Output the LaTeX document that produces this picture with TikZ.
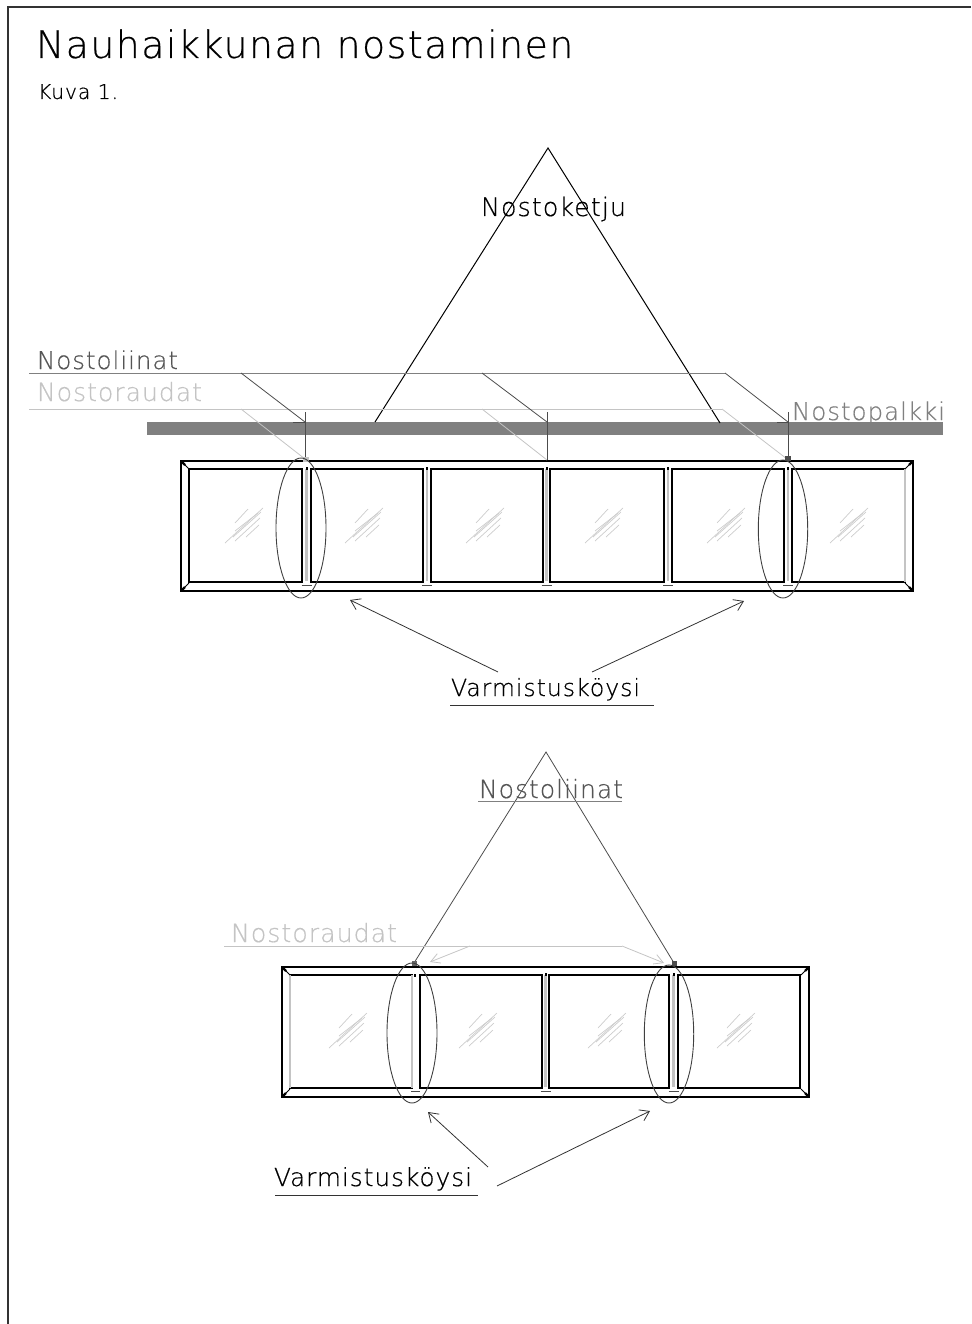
\documentclass[tikz,border=0pt]{standalone}
\usepackage{fontspec}
\usepackage{graphicx}
\setmainfont[LetterSpace=4,FakeBold=0.5]{DejaVu Sans ExtraLight}
\definecolor{lgrey}{HTML}{C4C4C4}
\definecolor{mgrey}{HTML}{808080}
\definecolor{hgrey}{HTML}{CCCCCC}
\definecolor{tgrey}{HTML}{555555}
\usetikzlibrary{arrows.meta}
\tikzset{
  x=1pt,y=-1pt,
  framewin/.style={line width=1.7pt,draw=black},
  pane/.style={line width=1.5pt,draw=black},
  greyline/.style={line width=1pt,draw=lgrey},
  darkline/.style={line width=1pt,draw=mgrey},
  sling/.style={line width=0.8pt,draw=black!70},
  chainline/.style={line width=1pt,draw=black},
  oval/.style={line width=0.9pt,draw=black!75},
  arr/.style={line width=0.8pt,draw=black!80,-{Straight Barb[length=9pt,width=12pt,line width=0.8pt]}},
  garr/.style={line width=0.8pt,draw=lgrey,-{Straight Barb[length=9pt,width=10pt,line width=0.8pt]}},
  lab/.style={inner sep=0pt,outer sep=0pt,anchor=base west},
  hatchline/.style={line width=0.7pt,draw=hgrey},
}
\newcommand{\glass}[2]{%
  \begin{scope}[shift={(#1,#2)}]
    \draw[hatchline] (-20,18)--(18,-17);
    \draw[hatchline] (-10,16)--(15,-7);
    \draw[hatchline] (-10,-2)--(3,-16);
    \draw[hatchline] (1,12)--(14,0);
    \draw[hatchline] (-10,6)--(13,-12);
    \draw[hatchline] (-12,12)--(16,-13);
  \end{scope}}
\newcommand{\muntin}[2]{%
  \draw[line width=2.4pt,draw=lgrey] (#1,#2+9)--(#1,#2+121);
  \fill[black] (#1-1,#2+7) rectangle (#1+1,#2+10);
  \draw[line width=1pt,draw=black!70] (#1-5,#2+125)--(#1+5,#2+125);}
\newcommand{\corner}[4]{%
  \draw[line width=1pt] (#1,#2)--(#1+#3*8,#2+#4*8);
  \draw[line width=2.4pt] (#1+#3*1,#2+#4*1)--(#1+#3*4,#2+#4*4);}
\begin{document}
\begin{tikzpicture}
\useasboundingbox (0,0) rectangle (971,1324);
% sheet border
\draw[line width=1.2pt,draw=black!80] (8,1324)--(8,7)--(971,7);
% titles
\node[lab] (title) at (36,58) {\resizebox{537pt}{!}{Nauhaikkunan nostaminen}};
\node[lab] (kuva) at (38,99) {\resizebox{80pt}{!}{Kuva 1.}};
% ---------- upper window ----------
\draw[framewin] (181,461) rectangle (913,591);
\foreach \a/\b in {189/302,311/423,431/543,550/664,672/784,792/905}{
  \draw[pane] (\a,469) rectangle (\b,582);}
\draw[line width=1.6pt,draw=lgrey] (905,469)--(905,582);
\foreach \m in {306.5,427,546.5,668,788}{\muntin{\m}{460}}
\corner{181}{461}{1}{1}\corner{181}{591}{1}{-1}\corner{913}{461}{-1}{1}\corner{913}{591}{-1}{-1}
\foreach \g in {245,365,486,605,727,850}{\glass{\g}{525}}
% beam and labels
\fill[mgrey] (147,422) rectangle (943,435);
\coordinate (apexA) at (548,148);
\coordinate (chainL) at (375,422);
\coordinate (chainR) at (720,423);
\draw[chainline,line join=miter] (chainL)--(apexA)--(chainR);
\node[lab] (ketju) at (481,216) {\resizebox{145pt}{!}{Nostoketju}};
\node[lab,text=tgrey] (liinat1) at (37,369) {\resizebox{141pt}{!}{Nostoliinat}};
\node[lab,text=lgrey] (raudat1) at (37,401) {\resizebox{165pt}{!}{Nostoraudat}};
\node[lab,text=mgrey] (palkki) at (792,420) {\resizebox{153pt}{!}{Nostopalkki}};
% slings and irons
\draw[greyline] (29,409)--(722,409);
\draw[greyline,line width=.8pt] (241,409)--(305,459);
\draw[greyline,line width=.8pt] (482,409)--(547,460);
\draw[greyline,line width=.8pt] (722,409)--(787,459);
\draw[darkline] (29,373)--(725,373);
\draw[sling] (241,373)--(305,422);
\draw[sling] (482,373)--(547,422);
\draw[sling] (725,373)--(788,422);
\draw[sling] (305,412)--(305,460);
\draw[sling] (547,412)--(547,460);
\draw[sling] (788,412)--(788,458);
\draw[sling,line width=.6pt] (293,422)--(305,422);
\draw[sling,line width=.6pt] (777,422)--(788,422);
\fill[lgrey] (303,457) rectangle (309,462);
\fill[black!70] (785,456) rectangle (791,461);
% ovals
\draw[oval] (301,528) ellipse [x radius=25,y radius=70];
\draw[oval] (783,529) ellipse [x radius=24.7,y radius=69];
% lower labels upper group
\node[lab] (varm1) at (451,696) {\resizebox{189pt}{!}{Varmistusköysi}};
\draw[line width=1pt,draw=black!80] (450,705)--(654,705);
\coordinate (v1a) at (498,672); \coordinate (v1b) at (350,600);
\coordinate (v1c) at (592,672); \coordinate (v1d) at (744,601);
\draw[arr] (v1a)--(v1b);
\draw[arr] (v1c)--(v1d);
% ---------- lower window ----------
\draw[framewin] (282,967) rectangle (809,1097);
\foreach \a/\b in {290/412,420/542,549/669,678/800}{
  \draw[pane] (\a,975) rectangle (\b,1088);}
\draw[line width=1.6pt,draw=lgrey] (290,975)--(290,1088);
\draw[line width=1.6pt,draw=lgrey] (412,975)--(412,1088);
\foreach \m in {545.5,673.5}{\muntin{\m}{966}}
\fill[black] (414,974) rectangle (416,977);
\draw[line width=1pt,draw=black!70] (411,1091)--(420,1091);
\corner{282}{967}{1}{1}\corner{282}{1097}{1}{-1}\corner{809}{967}{-1}{1}\corner{809}{1097}{-1}{-1}
\foreach \g in {349,479,608,737}{\glass{\g}{1030}}
\coordinate (apexB) at (546,752);
\coordinate (hookL) at (414,963);
\coordinate (hookR) at (674,963);
\draw[sling] (hookL)--(apexB)--(hookR);
\fill[black!60] (411.5,961) rectangle (416.5,966);
\fill[black!70] (671.5,961) rectangle (676.5,966);
\node[lab,text=tgrey] (liinat2) at (479,798) {\resizebox{144pt}{!}{Nostoliinat}};
\draw[darkline] (478,801)--(622,801);
\node[lab,text=lgrey] (raudat2) at (231,942) {\resizebox{166pt}{!}{Nostoraudat}};
\draw[greyline] (224,946)--(622,946);
\coordinate (r2a) at (470,946); \coordinate (r2b) at (430,962);
\coordinate (r2c) at (622,946); \coordinate (r2d) at (664,963);
\draw[garr] (r2a)--(r2b);
\draw[garr] (r2c)--(r2d);
\draw[oval] (412,1033) ellipse [x radius=25,y radius=70];
\draw[oval] (669,1034) ellipse [x radius=24.7,y radius=69];
\node[lab] (varm2) at (274,1186) {\resizebox{198pt}{!}{Varmistusköysi}};
\draw[line width=1pt,draw=black!80] (275,1195)--(478,1195);
\coordinate (v2a) at (488,1167); \coordinate (v2b) at (428,1112);
\coordinate (v2c) at (497,1186); \coordinate (v2d) at (650,1111);
\draw[arr] (v2a)--(v2b);
\draw[arr] (v2c)--(v2d);
\end{tikzpicture}
\end{document}
